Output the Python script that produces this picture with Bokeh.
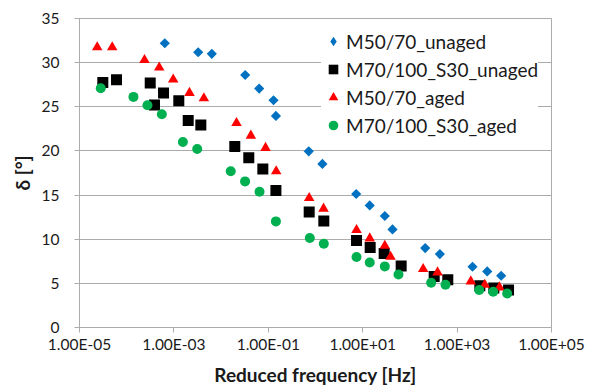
from math import pi

from bokeh.embed import file_html
from bokeh.models import (ColumnDataSource, CustomJSTickFormatter, FixedTicker,
                          Legend, LegendItem, Range1d)
from bokeh.plotting import figure
from bokeh.resources import INLINE

# Phase angle master curves vs. reduced frequency
freq_m5070_unaged = [6.41e-4, 3.27e-3, 6.35e-3, 3.24e-2, 6.41e-2, 0.129, 0.145, 0.719, 1.40,
                     7.28, 14.1, 29.4, 42.8, 211, 431, 2120, 4350, 8590]
delta_m5070_unaged = [32.2, 31.18, 31.0, 28.6, 27.06, 25.74, 23.97, 19.95, 18.53,
                      15.12, 13.83, 12.63, 11.11, 9.0, 8.32, 6.88, 6.35, 5.86]

freq_m70100_unaged = [3.12e-5, 6.08e-5, 3.15e-4, 3.88e-4, 6.03e-4, 1.27e-3, 2.01e-3, 3.72e-3,
                      1.95e-2, 3.86e-2, 7.66e-2, 0.145, 0.735, 1.50, 7.40, 14.4, 28.5, 65.3,
                      327, 635, 3030, 6000, 12300]
delta_m70100_unaged = [27.74, 28.05, 27.7, 25.2, 26.57, 25.67, 23.44, 22.95,
                       20.49, 19.24, 17.96, 15.53, 13.08, 12.06, 9.86, 9.07, 8.39, 6.96,
                       5.78, 5.41, 4.73, 4.47, 4.24]

freq_m5070_aged = [2.37e-5, 4.93e-5, 2.38e-4, 4.89e-4, 9.66e-4, 2.14e-3, 4.31e-3, 2.12e-2,
                   4.27e-2, 8.73e-2, 0.147, 0.735, 1.48, 7.40, 14.1, 29.4, 38.8, 191, 385,
                   1950, 3860, 7910]
delta_m5070_aged = [31.75, 31.75, 30.3, 29.45, 28.08, 26.57, 25.96, 23.17,
                    21.73, 20.34, 17.69, 14.67, 13.46, 11.04, 10.09, 9.26, 8.02, 6.62, 6.24,
                    5.22, 4.84, 4.54]

freq_m70100_aged = [2.82e-5, 1.39e-4, 2.75e-4, 5.55e-4, 1.55e-3, 3.12e-3, 1.60e-2, 3.22e-2,
                    6.52e-2, 0.145, 0.757, 1.50, 7.40, 14.1, 29.4, 57.3, 282, 568, 2940,
                    5820, 11500]
delta_m70100_aged = [27.1, 26.12, 25.17, 24.15, 21.02, 20.22, 17.69, 16.55,
                     15.38, 12.02, 10.14, 9.49, 7.98, 7.37, 6.92, 6.01, 5.07, 4.84, 4.24,
                     4.05, 3.85]

series_names = ["M50/70_unaged", "M70/100_S30_unaged", "M50/70_aged", "M70/100_S30_aged"]
x_ticks = [1e-5, 1e-3, 1e-1, 1e1, 1e3, 1e5]
y_ticks = [0, 5, 10, 15, 20, 25, 30, 35]

FONT = "Lato"
GRID = "#ABABAB"
TEXT = "#1a1a1a"
BLUE, RED, GREEN = "#0070C0", "#FF0000", "#00B050"

p = figure(width=595, height=389, x_axis_type="log",
           x_range=Range1d(1e-5, 1e5), y_range=Range1d(0, 35),
           output_backend="svg", toolbar_location=None,
           min_border_left=79, min_border_right=44,
           min_border_top=18, min_border_bottom=62)

p.background_fill_color = "white"
p.border_fill_color = "white"
p.outline_line_color = GRID
p.outline_line_width = 1

p.xgrid.grid_line_color = None
p.ygrid.grid_line_color = GRID
p.ygrid.grid_line_width = 1

# axes
p.xaxis.ticker = FixedTicker(ticks=x_ticks, minor_ticks=[])
p.xaxis.formatter = CustomJSTickFormatter(code="""
    const e = Math.round(Math.log10(tick));
    const m = tick / Math.pow(10, e);
    const a = Math.abs(e);
    return m.toFixed(2) + 'E' + (e < 0 ? '-' : '+') + (a < 10 ? '0' : '') + a;
""")
p.yaxis.ticker = FixedTicker(ticks=y_ticks, minor_ticks=[])

for ax in (p.xaxis, p.yaxis):
    ax.axis_line_color = GRID
    ax.major_tick_line_color = GRID
    ax.major_tick_out = 5
    ax.major_tick_in = 0
    ax.minor_tick_line_color = None
    ax.major_label_text_font = FONT
    ax.major_label_text_font_size = "15.5px"
    ax.major_label_text_color = TEXT
    ax.axis_label_text_font = FONT
    ax.axis_label_text_font_size = "19px"
    ax.axis_label_text_font_style = "bold"
    ax.axis_label_text_color = TEXT

p.xaxis.axis_label = "Reduced frequency [Hz]"
p.yaxis.axis_label = "δ [°]"
p.xaxis.major_label_standoff = 2
p.xaxis.axis_label_standoff = 7
p.yaxis.major_label_standoff = 15
p.yaxis.axis_label_standoff = 5

src_a = ColumnDataSource(dict(x=freq_m5070_unaged, y=delta_m5070_unaged))
src_b = ColumnDataSource(dict(x=freq_m70100_unaged, y=delta_m70100_unaged))
src_c = ColumnDataSource(dict(x=freq_m5070_aged, y=delta_m5070_aged))
src_d = ColumnDataSource(dict(x=freq_m70100_aged, y=delta_m70100_aged))

r_a = p.scatter("x", "y", source=src_a, marker="square", angle=pi / 4, size=7.2,
                fill_color=BLUE, line_color=None)
r_b = p.scatter("x", "y", source=src_b, marker="square", size=11,
                fill_color="black", line_color=None)
r_c = p.scatter("x", "y", source=src_c, marker="triangle", size=10.5,
                fill_color=RED, line_color=None)
r_d = p.scatter("x", "y", source=src_d, marker="circle", size=10,
                fill_color=GREEN, line_color=None)

# hidden diamond renderer used only as the legend swatch
# (legend glyphs are drawn unrotated, so the rotated square would show as a square)
key_a = p.scatter("x", "y", source=src_a, marker="diamond", size=10,
                  fill_color=BLUE, line_color=None, visible=False)

legend = Legend(items=[LegendItem(label=n, renderers=[r])
                       for n, r in zip(series_names, [key_a, r_b, r_c, r_d])],
                location=(242, 190))
legend.background_fill_color = "white"
legend.background_fill_alpha = 1.0
legend.border_line_color = None
legend.inactive_fill_alpha = 0.0
legend.label_text_font = FONT
legend.label_text_font_size = "19px"
legend.label_text_color = TEXT
legend.glyph_width = 24
legend.glyph_height = 24
legend.label_height = 24
legend.spacing = 4
legend.padding = 4
legend.margin = 0
legend.label_standoff = 1
p.add_layout(legend, "center")

open("out.html", "w").write(file_html(p, INLINE))
